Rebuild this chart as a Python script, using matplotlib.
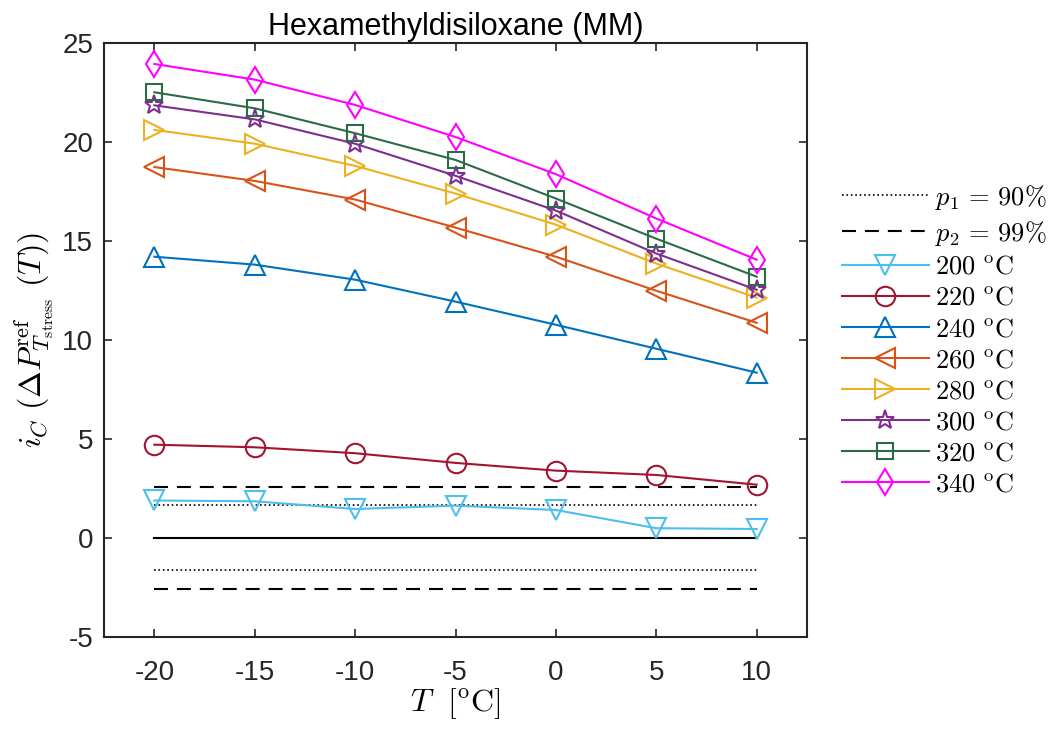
import numpy as np
import matplotlib.pyplot as plt

plt.rcParams['font.family'] = ['Liberation Sans', 'DejaVu Sans']
plt.rcParams['mathtext.fontset'] = 'cm'

T = np.array([-20, -15, -10, -5, 0, 5, 10])

temps = [200, 220, 240, 260, 280, 300, 320, 340]
ic_200 = [1.89, 1.85, 1.46, 1.63, 1.41, 0.49, 0.45]
ic_220 = [4.71, 4.58, 4.28, 3.79, 3.40, 3.18, 2.69]
ic_240 = [14.21, 13.81, 13.05, 11.94, 10.77, 9.56, 8.35]
ic_260 = [18.74, 18.04, 17.10, 15.68, 14.21, 12.49, 10.87]
ic_280 = [20.62, 19.92, 18.80, 17.40, 15.83, 13.86, 12.14]
ic_300 = [21.86, 21.15, 19.92, 18.30, 16.54, 14.37, 12.54]
ic_320 = [22.52, 21.71, 20.45, 19.10, 17.15, 15.12, 13.20]
ic_340 = [23.95, 23.16, 21.88, 20.26, 18.38, 16.14, 14.06]

p1 = 1.645
p2 = 2.576

series = [ic_200, ic_220, ic_240, ic_260, ic_280, ic_300, ic_320, ic_340]
colors = ['#4DBEEE', '#A2142F', '#0072BD', '#D95319',
          '#EDB120', '#7E2F8E', '#2B6B47', '#FF00FF']
markers = ['v', 'o', '^', '<', '>', '*', 's', 'd']
msizes = [15, 14, 15, 15, 15, 14, 12, 13]

fig = plt.figure(figsize=(10.52, 7.32), dpi=100)
ax = fig.add_axes([0.099, 0.130, 0.668, 0.811])

dash = (0, (6.7, 4.3))
ax.plot(T, np.zeros_like(T), color='k', lw=1.5)
h1, = ax.plot(T, np.full(len(T), p1), color='k', ls=':', lw=1.2)
ax.plot(T, np.full(len(T), -p1), color='k', ls=':', lw=1.2)
h2, = ax.plot(T, np.full(len(T), p2), color='k', ls=dash, lw=1.5)
ax.plot(T, np.full(len(T), -p2), color='k', ls=dash, lw=1.5)

handles = [h1, h2]
labels = [r'$p_1\,=\,90\%$', r'$p_2\,=\,99\%$']
for t, y, c, m, ms in zip(temps, series, colors, markers, msizes):
    h, = ax.plot(T, y, color=c, marker=m, ms=ms, mfc='none', mew=1.5, lw=1.5)
    handles.append(h)
    labels.append(r'$%d\ ^{\mathrm{o}}\mathrm{C}$' % t)

ax.set_xlim(-22.5, 12.5)
ax.set_ylim(-5, 25)
ax.set_xticks(T)
ax.set_xticklabels([str(v) for v in T])
ax.set_yticks(np.arange(-5, 26, 5))
ax.set_yticklabels([str(v) for v in np.arange(-5, 26, 5)])
ax.tick_params(direction='in', top=True, right=True, labelsize=20,
               length=6, width=1.2, colors='#262626')
ax.tick_params(axis='x', pad=17)
ax.tick_params(axis='y', pad=8)
for s in ax.spines.values():
    s.set_linewidth(1.5)
    s.set_color('#262626')

ax.set_title('Hexamethyldisiloxane (MM)', fontsize=22, pad=6)
ax.set_xlabel(r'$T\ \ [^{\mathrm{o}}\mathrm{C}]$', fontsize=23, labelpad=0)
ax.set_ylabel(r'$i_C\ (\Delta P^{\mathrm{ref}}_{T_{\mathrm{stress}}}\ (T))$',
              fontsize=23, labelpad=4)

fig.legend(handles, labels, loc='upper left', bbox_to_anchor=(0.790, 0.765),
           frameon=False, fontsize=19, handlelength=3.3, handletextpad=0.25,
           labelspacing=0.27, borderaxespad=0)

fig.savefig('out.png', dpi=100)
